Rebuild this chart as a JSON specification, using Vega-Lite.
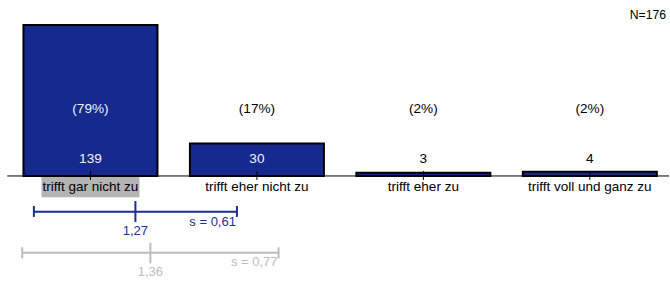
{
  "$schema": "https://vega.github.io/schema/vega-lite/v6.json",
  "width": 670,
  "height": 282,
  "autosize": {"type": "fit", "contains": "padding"},
  "padding": 0,
  "background": "white",
  "config": {"view": {"stroke": null}, "font": "Liberation Sans", "text": {"font": "Liberation Sans"}, "scale": {"continuousPadding": 0}},
  "datasets": {
    "antworten": [
      {"wert": 1, "kategorie": "trifft gar nicht zu", "anzahl": 139, "anteil": "(79%)", "markiert": true},
      {"wert": 2, "kategorie": "trifft eher nicht zu", "anzahl": 30, "anteil": "(17%)", "markiert": false},
      {"wert": 3, "kategorie": "trifft eher zu", "anzahl": 3, "anteil": "(2%)", "markiert": false},
      {"wert": 4, "kategorie": "trifft voll und ganz zu", "anzahl": 4, "anteil": "(2%)", "markiert": false}
    ],
    "kennwerte": [
      {"gruppe": "Befragte", "mittelwert": 1.27, "s": 0.61, "unten": 0.66, "oben": 1.88, "mw_text": "1,27", "s_text": "s = 0,61"},
      {"gruppe": "Vergleich", "mittelwert": 1.36, "s": 0.77, "unten": 0.59, "oben": 2.13, "mw_text": "1,36", "s_text": "s = 0,77"}
    ],
    "gesamt": [{"n_text": "N=176"}]
  },
  "layer": [
    {
      "data": {"name": "antworten"},
      "transform": [{"filter": "datum.markiert"}],
      "mark": {"type": "bar", "width": 98, "color": "#b4b4b4"},
      "encoding": {
        "x": {"field": "wert", "type": "quantitative", "scale": {"domain": [0.4565, 4.4757], "nice": false, "zero": false, "padding": 0}, "axis": null},
        "y": {"datum": -0.6, "type": "quantitative", "scale": {"domain": [-97.6, 162], "nice": false, "zero": false, "padding": 0}, "axis": null},
        "y2": {"datum": -19.6}
      }
    },
    {
      "data": {"name": "antworten"},
      "mark": {"type": "bar", "width": 134, "color": "#15298f", "stroke": "black", "strokeWidth": 2},
      "encoding": {
        "x": {"field": "wert", "type": "quantitative", "scale": {"domain": [0.4565, 4.4757], "nice": false, "zero": false, "padding": 0}, "axis": null},
        "y": {"field": "anzahl", "type": "quantitative", "scale": {"domain": [-97.6, 162], "nice": false, "zero": false, "padding": 0}, "axis": null},
        "y2": {"datum": 0}
      }
    },
    {
      "data": {"name": "gesamt"},
      "mark": {"type": "rule", "color": "black", "strokeWidth": 1},
      "encoding": {
        "x": {"datum": 0.5, "type": "quantitative", "scale": {"domain": [0.4565, 4.4757], "nice": false, "zero": false, "padding": 0}, "axis": null},
        "x2": {"datum": 4.4757},
        "y": {"datum": 0, "type": "quantitative", "scale": {"domain": [-97.6, 162], "nice": false, "zero": false, "padding": 0}, "axis": null}
      }
    },
    {
      "data": {"name": "antworten"},
      "mark": {"type": "rule", "color": "black", "strokeWidth": 1},
      "encoding": {
        "x": {"field": "wert", "type": "quantitative", "scale": {"domain": [0.4565, 4.4757], "nice": false, "zero": false, "padding": 0}, "axis": null},
        "y": {"datum": 4.6, "type": "quantitative", "scale": {"domain": [-97.6, 162], "nice": false, "zero": false, "padding": 0}, "axis": null},
        "y2": {"datum": -3.7}
      }
    },
    {
      "data": {"name": "antworten"},
      "mark": {"type": "text", "fontSize": 13.6, "baseline": "middle", "align": "center"},
      "encoding": {
        "x": {"field": "wert", "type": "quantitative", "scale": {"domain": [0.4565, 4.4757], "nice": false, "zero": false, "padding": 0}, "axis": null},
        "y": {"datum": 16, "type": "quantitative", "scale": {"domain": [-97.6, 162], "nice": false, "zero": false, "padding": 0}, "axis": null},
        "text": {"field": "anzahl", "type": "quantitative"},
        "color": {"condition": {"test": "datum.anzahl > 20", "value": "#f2f2f2"}, "value": "black"}
      }
    },
    {
      "data": {"name": "antworten"},
      "mark": {"type": "text", "fontSize": 13.6, "baseline": "middle", "align": "center"},
      "encoding": {
        "x": {"field": "wert", "type": "quantitative", "scale": {"domain": [0.4565, 4.4757], "nice": false, "zero": false, "padding": 0}, "axis": null},
        "y": {"datum": 61.7, "type": "quantitative", "scale": {"domain": [-97.6, 162], "nice": false, "zero": false, "padding": 0}, "axis": null},
        "text": {"field": "anteil", "type": "nominal"},
        "color": {"condition": {"test": "datum.anzahl > 65", "value": "#f2f2f2"}, "value": "black"}
      }
    },
    {
      "data": {"name": "antworten"},
      "mark": {"type": "text", "fontSize": 13.5, "baseline": "middle", "align": "center", "color": "black"},
      "encoding": {
        "x": {"field": "wert", "type": "quantitative", "scale": {"domain": [0.4565, 4.4757], "nice": false, "zero": false, "padding": 0}, "axis": null},
        "y": {"datum": -10.3, "type": "quantitative", "scale": {"domain": [-97.6, 162], "nice": false, "zero": false, "padding": 0}, "axis": null},
        "text": {"field": "kategorie", "type": "nominal"}
      }
    },
    {
      "data": {"name": "gesamt"},
      "mark": {"type": "text", "fontSize": 12.2, "baseline": "middle", "align": "right", "dx": -3, "color": "black"},
      "encoding": {
        "x": {"datum": 4.4757, "type": "quantitative", "scale": {"domain": [0.4565, 4.4757], "nice": false, "zero": false, "padding": 0}, "axis": null},
        "y": {"datum": 148.2, "type": "quantitative", "scale": {"domain": [-97.6, 162], "nice": false, "zero": false, "padding": 0}, "axis": null},
        "text": {"field": "n_text", "type": "nominal"}
      }
    },
    {
      "data": {"name": "kennwerte"},
      "transform": [{"filter": "datum.gruppe === 'Befragte'"}],
      "mark": {"type": "rule", "color": "#1d2f95", "strokeWidth": 2},
      "encoding": {
        "x": {"field": "unten", "type": "quantitative", "scale": {"domain": [0.4565, 4.4757], "nice": false, "zero": false, "padding": 0}, "axis": null},
        "x2": {"field": "oben"},
        "y": {"datum": -32.9, "type": "quantitative", "scale": {"domain": [-97.6, 162], "nice": false, "zero": false, "padding": 0}, "axis": null}
      }
    },
    {
      "data": {"name": "kennwerte"},
      "transform": [{"filter": "datum.gruppe === 'Befragte'"}],
      "mark": {"type": "rule", "color": "#1d2f95", "strokeWidth": 2},
      "encoding": {
        "x": {"field": "unten", "type": "quantitative", "scale": {"domain": [0.4565, 4.4757], "nice": false, "zero": false, "padding": 0}, "axis": null},
        "y": {"datum": -27.6, "type": "quantitative", "scale": {"domain": [-97.6, 162], "nice": false, "zero": false, "padding": 0}, "axis": null},
        "y2": {"datum": -37.7}
      }
    },
    {
      "data": {"name": "kennwerte"},
      "transform": [{"filter": "datum.gruppe === 'Befragte'"}],
      "mark": {"type": "rule", "color": "#1d2f95", "strokeWidth": 2},
      "encoding": {
        "x": {"field": "oben", "type": "quantitative", "scale": {"domain": [0.4565, 4.4757], "nice": false, "zero": false, "padding": 0}, "axis": null},
        "y": {"datum": -27.6, "type": "quantitative", "scale": {"domain": [-97.6, 162], "nice": false, "zero": false, "padding": 0}, "axis": null},
        "y2": {"datum": -37.7}
      }
    },
    {
      "data": {"name": "kennwerte"},
      "transform": [{"filter": "datum.gruppe === 'Befragte'"}],
      "mark": {"type": "rule", "color": "#1d2f95", "strokeWidth": 2},
      "encoding": {
        "x": {"field": "mittelwert", "type": "quantitative", "scale": {"domain": [0.4565, 4.4757], "nice": false, "zero": false, "padding": 0}, "axis": null},
        "y": {"datum": -23, "type": "quantitative", "scale": {"domain": [-97.6, 162], "nice": false, "zero": false, "padding": 0}, "axis": null},
        "y2": {"datum": -42.3}
      }
    },
    {
      "data": {"name": "kennwerte"},
      "transform": [{"filter": "datum.gruppe === 'Befragte'"}],
      "mark": {"type": "text", "fontSize": 13, "baseline": "middle", "align": "center", "color": "#1d2f95"},
      "encoding": {
        "x": {"field": "mittelwert", "type": "quantitative", "scale": {"domain": [0.4565, 4.4757], "nice": false, "zero": false, "padding": 0}, "axis": null},
        "y": {"datum": -50.2, "type": "quantitative", "scale": {"domain": [-97.6, 162], "nice": false, "zero": false, "padding": 0}, "axis": null},
        "text": {"field": "mw_text", "type": "nominal"}
      }
    },
    {
      "data": {"name": "kennwerte"},
      "transform": [{"filter": "datum.gruppe === 'Befragte'"}],
      "mark": {"type": "text", "fontSize": 13, "baseline": "middle", "align": "right", "dx": -1, "color": "#1d2f95"},
      "encoding": {
        "x": {"field": "oben", "type": "quantitative", "scale": {"domain": [0.4565, 4.4757], "nice": false, "zero": false, "padding": 0}, "axis": null},
        "y": {"datum": -42.1, "type": "quantitative", "scale": {"domain": [-97.6, 162], "nice": false, "zero": false, "padding": 0}, "axis": null},
        "text": {"field": "s_text", "type": "nominal"}
      }
    },
    {
      "data": {"name": "kennwerte"},
      "transform": [{"filter": "datum.gruppe === 'Vergleich'"}],
      "mark": {"type": "rule", "color": "#bdbdbd", "strokeWidth": 2},
      "encoding": {
        "x": {"field": "unten", "type": "quantitative", "scale": {"domain": [0.4565, 4.4757], "nice": false, "zero": false, "padding": 0}, "axis": null},
        "x2": {"field": "oben"},
        "y": {"datum": -70.6, "type": "quantitative", "scale": {"domain": [-97.6, 162], "nice": false, "zero": false, "padding": 0}, "axis": null}
      }
    },
    {
      "data": {"name": "kennwerte"},
      "transform": [{"filter": "datum.gruppe === 'Vergleich'"}],
      "mark": {"type": "rule", "color": "#bdbdbd", "strokeWidth": 2},
      "encoding": {
        "x": {"field": "unten", "type": "quantitative", "scale": {"domain": [0.4565, 4.4757], "nice": false, "zero": false, "padding": 0}, "axis": null},
        "y": {"datum": -65.6, "type": "quantitative", "scale": {"domain": [-97.6, 162], "nice": false, "zero": false, "padding": 0}, "axis": null},
        "y2": {"datum": -75.8}
      }
    },
    {
      "data": {"name": "kennwerte"},
      "transform": [{"filter": "datum.gruppe === 'Vergleich'"}],
      "mark": {"type": "rule", "color": "#bdbdbd", "strokeWidth": 2},
      "encoding": {
        "x": {"field": "oben", "type": "quantitative", "scale": {"domain": [0.4565, 4.4757], "nice": false, "zero": false, "padding": 0}, "axis": null},
        "y": {"datum": -65.6, "type": "quantitative", "scale": {"domain": [-97.6, 162], "nice": false, "zero": false, "padding": 0}, "axis": null},
        "y2": {"datum": -75.8}
      }
    },
    {
      "data": {"name": "kennwerte"},
      "transform": [{"filter": "datum.gruppe === 'Vergleich'"}],
      "mark": {"type": "rule", "color": "#bdbdbd", "strokeWidth": 2},
      "encoding": {
        "x": {"field": "mittelwert", "type": "quantitative", "scale": {"domain": [0.4565, 4.4757], "nice": false, "zero": false, "padding": 0}, "axis": null},
        "y": {"datum": -61.4, "type": "quantitative", "scale": {"domain": [-97.6, 162], "nice": false, "zero": false, "padding": 0}, "axis": null},
        "y2": {"datum": -80.4}
      }
    },
    {
      "data": {"name": "kennwerte"},
      "transform": [{"filter": "datum.gruppe === 'Vergleich'"}],
      "mark": {"type": "text", "fontSize": 13, "baseline": "middle", "align": "center", "color": "#bdbdbd"},
      "encoding": {
        "x": {"field": "mittelwert", "type": "quantitative", "scale": {"domain": [0.4565, 4.4757], "nice": false, "zero": false, "padding": 0}, "axis": null},
        "y": {"datum": -88.4, "type": "quantitative", "scale": {"domain": [-97.6, 162], "nice": false, "zero": false, "padding": 0}, "axis": null},
        "text": {"field": "mw_text", "type": "nominal"}
      }
    },
    {
      "data": {"name": "kennwerte"},
      "transform": [{"filter": "datum.gruppe === 'Vergleich'"}],
      "mark": {"type": "text", "fontSize": 13, "baseline": "middle", "align": "right", "dx": -1, "color": "#bdbdbd"},
      "encoding": {
        "x": {"field": "oben", "type": "quantitative", "scale": {"domain": [0.4565, 4.4757], "nice": false, "zero": false, "padding": 0}, "axis": null},
        "y": {"datum": -79.3, "type": "quantitative", "scale": {"domain": [-97.6, 162], "nice": false, "zero": false, "padding": 0}, "axis": null},
        "text": {"field": "s_text", "type": "nominal"}
      }
    }
  ]
}
